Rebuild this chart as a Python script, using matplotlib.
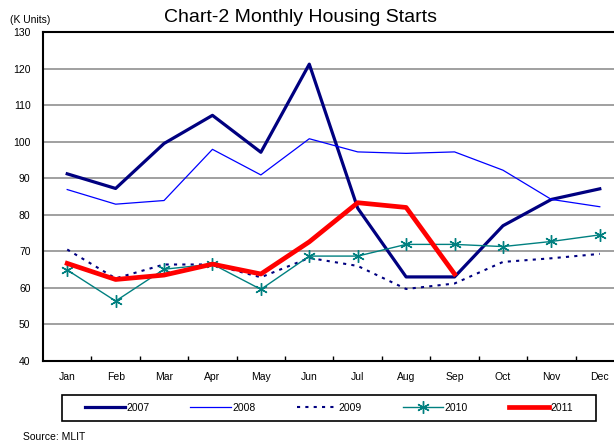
import matplotlib.pyplot as plt
from matplotlib.patches import Rectangle
from matplotlib.ticker import MultipleLocator, FixedLocator

plt.rcParams['font.family'] = ['Liberation Sans', 'DejaVu Sans']

# Monthly housing starts, thousand units
months = ['Jan', 'Feb', 'Mar', 'Apr', 'May', 'Jun',
          'Jul', 'Aug', 'Sep', 'Oct', 'Nov', 'Dec']
y2007 = [91.2, 87.2, 99.5, 107.2, 97.1, 121.2, 81.8, 63.0, 63.0, 77.0, 84.2, 87.1]
y2008 = [86.9, 82.9, 83.9, 97.9, 90.9, 100.8, 97.2, 96.8, 97.2, 92.2, 84.2, 82.2]
y2009 = [70.5, 62.6, 66.4, 66.4, 62.9, 68.2, 66.0, 59.7, 61.2, 67.1, 68.1, 69.3]
y2010 = [64.9, 56.4, 65.1, 66.5, 59.6, 68.7, 68.7, 71.9, 71.9, 71.3, 72.7, 74.5]
y2011 = [66.7, 62.3, 63.5, 66.5, 63.8, 72.6, 83.3, 82.0, 63.8]

fig = plt.figure(figsize=(6.14, 4.46), dpi=100)
# plot area runs slightly past the right edge, like the original
ax = fig.add_axes([43 / 614, 1 - 361 / 446, 581 / 614, 329 / 446])

x = list(range(len(months)))
ax.plot(x, y2007, color='#000080', lw=2.3, label='2007', zorder=3)
ax.plot(x, y2008, color='#0000FF', lw=0.9, label='2008', zorder=3)
ax.plot(x, y2009, color='#000080', lw=1.5, ls=(0, (1.5, 2.5)), label='2009', zorder=3)
ax.plot(x, y2010, color='#008080', lw=1.0, marker=(6, 2, 0), markersize=9,
        markeredgewidth=1.0, label='2010', zorder=3)
ax.plot(x[:len(y2011)], y2011, color='#FF0000', lw=3.4, label='2011', zorder=4)

ax.set_xlim(-0.5, 11.5)
ax.set_ylim(40, 130)
ax.yaxis.set_major_locator(MultipleLocator(10))
ax.grid(axis='y', color='#999999', lw=1.3)
ax.set_axisbelow(True)

ax.set_xticks(x)
ax.set_xticklabels(months, fontsize=7.5)
ax.xaxis.set_minor_locator(FixedLocator([i + 0.5 for i in range(11)]))
ax.tick_params(axis='x', which='major', length=0, pad=8)
ax.tick_params(axis='x', which='minor', direction='in', length=3.5, width=1)
ax.tick_params(axis='y', labelsize=7.5, length=0, pad=9)

for s in ['left', 'bottom', 'top']:
    ax.spines[s].set_linewidth(1.5)
ax.spines['right'].set_visible(False)

fig.text(300 / 614, 1 - 17 / 446, 'Chart-2 Monthly Housing Starts', ha='center',
         va='center', fontsize=14)
fig.text(10 / 614, 1 - 20 / 446, '(K Units)', ha='left', va='center', fontsize=7.5)
fig.text(23 / 614, 1 - 437 / 446, 'Source: MLIT', ha='left', va='center', fontsize=7.5)

# legend frame drawn separately so its size matches the original box
fig.patches.append(Rectangle((62 / 614, 1 - 421 / 446), 534 / 614, 26 / 446,
                             transform=fig.transFigure, fill=False,
                             edgecolor='black', lw=1.2))
fig.legend(loc='center', ncol=5, bbox_to_anchor=(329 / 614, 1 - 408 / 446),
           frameon=False, fontsize=7.5, handlelength=3.9, handletextpad=0.15,
           columnspacing=3.9, borderaxespad=0, borderpad=0)

fig.savefig('out.png', dpi=100)
